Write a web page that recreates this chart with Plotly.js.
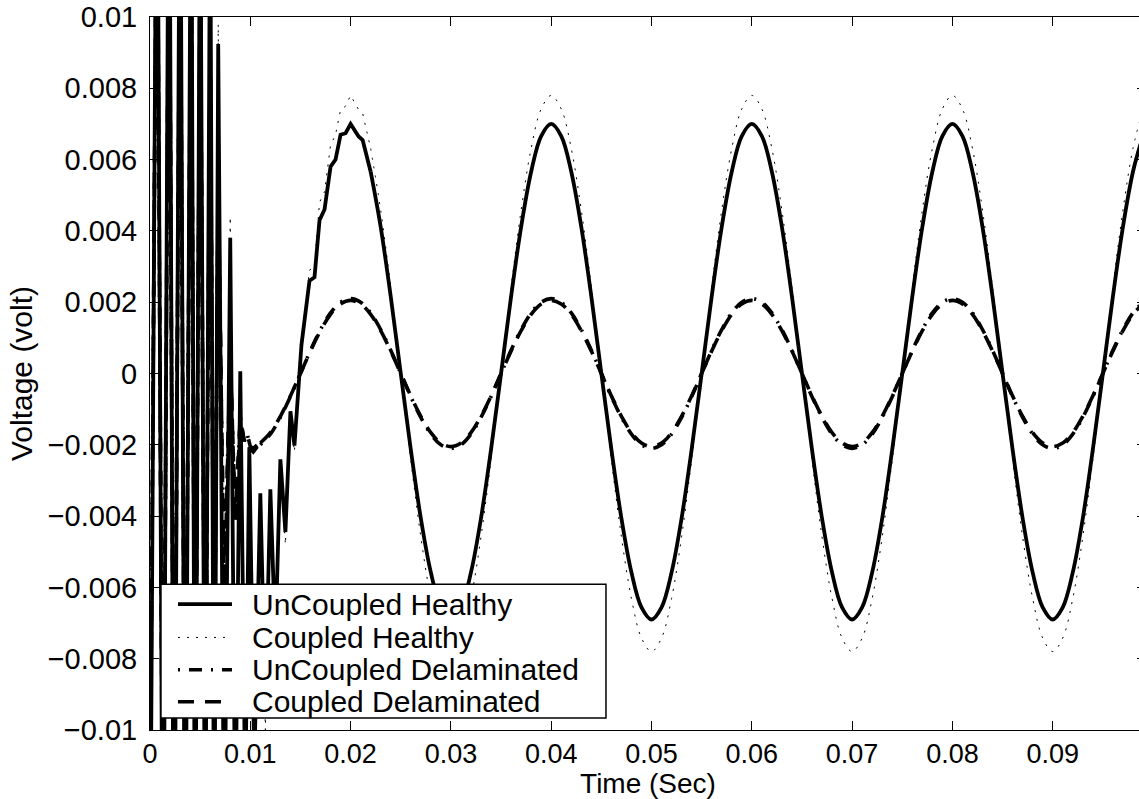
<!DOCTYPE html>
<html>
<head>
<meta charset="utf-8">
<script src="https://cdn.plot.ly/plotly-3.0.1.min.js"></script>
<style>
html, body { margin: 0; padding: 0; overflow: hidden; background: #fff; }
#chart { width: 1146px; height: 799px; }
</style>
</head>
<body>
<div id="chart"></div>
<script>
// ---------- Data ----------
// Start-up transient, healthy beam (linear segments)
const tHealthyTrans = [0, 0.0007, 0.0013, 0.0019, 0.0024, 0.0030, 0.0035, 0.0041, 0.0045, 0.0050,
  0.0055, 0.0060, 0.0064, 0.0068, 0.0074, 0.0080, 0.0085, 0.0090, 0.0095, 0.0099,
  0.0104, 0.0110, 0.0115, 0.0120, 0.0125, 0.0130, 0.0135, 0.0140, 0.0144, 0.0148,
  0.0151, 0.0159, 0.0164, 0.0169, 0.0174, 0.0180, 0.0185, 0.0190, 0.0195, 0.0200,
  0.0208, 0.0212, 0.0220];
const uncHealthyTrans = [-0.016, 0.018, -0.018, 0.018, -0.018, 0.017, -0.017, 0.016, -0.016, 0.015,
  -0.015, 0.014, -0.015, 0.00924, -0.014, 0.00381, -0.013, 0.00006, -0.012, -0.00207,
  -0.011, -0.00336, -0.0093, -0.00325, -0.0075, -0.00241, -0.00445, -0.00106, -0.00202, -0.0002,
  0.0008, 0.0026, 0.0027, 0.0043, 0.0046, 0.0058, 0.0060, 0.0067, 0.00674, 0.0070,
  0.00665, 0.00655, 0.00566];
const cplHealthyTrans = [-0.0176, 0.0198, -0.0198, 0.0198, -0.0198, 0.0187, -0.0187, 0.0176, -0.0176, 0.0165,
  -0.0165, 0.0154, -0.0165, 0.0098, -0.0154, 0.0044, -0.0143, 0.0001, -0.0132, -0.0022,
  -0.0121, -0.0036, -0.0100, -0.0035, -0.0082, -0.0026, -0.0048, -0.0012, -0.0022, -0.0002,
  0.0009, 0.0029, 0.0030, 0.0048, 0.0051, 0.0064, 0.0067, 0.0074, 0.0075, 0.0078,
  0.0074, 0.0073, 0.00631];

// Start-up transient, delaminated beam
const tDelamTrans = [0, 0.0007, 0.0013, 0.0019, 0.0024, 0.0030, 0.0035, 0.0041, 0.0045, 0.0050,
  0.0055, 0.0060, 0.0064, 0.0068, 0.0074, 0.0080, 0.0085, 0.0090, 0.0094, 0.0097,
  0.0100, 0.0103, 0.0107, 0.0110];
const uncDelamTrans = [-0.012, 0.015, -0.015, 0.014, -0.014, 0.013, -0.013, 0.012, -0.012, 0.011,
  -0.011, 0.009, -0.009, 0.005, -0.006, 0.0005, -0.004, -0.0012, -0.0019, -0.0017,
  -0.0021, -0.0022, -0.00205, -0.0020];
const cplDelamTrans = [-0.013, 0.016, -0.016, 0.015, -0.015, 0.014, -0.014, 0.013, -0.013, 0.012,
  -0.012, 0.0095, -0.0095, 0.0055, -0.0065, 0.0006, -0.0042, -0.0013, -0.0019, -0.0017,
  -0.00205, -0.0021, -0.0020, -0.00195];

// Steady state, healthy beam (0.022 .. 0.099 s)
const tHealthy = [0.022, 0.023, 0.024, 0.025, 0.026, 0.027, 0.028, 0.029, 0.030, 0.031,
  0.032, 0.033, 0.034, 0.035, 0.036, 0.037, 0.038, 0.039, 0.040, 0.041,
  0.042, 0.043, 0.044, 0.045, 0.046, 0.047, 0.048, 0.049, 0.050, 0.051,
  0.052, 0.053, 0.054, 0.055, 0.056, 0.057, 0.058, 0.059, 0.060, 0.061,
  0.062, 0.063, 0.064, 0.065, 0.066, 0.067, 0.068, 0.069, 0.070, 0.071,
  0.072, 0.073, 0.074, 0.075, 0.076, 0.077, 0.078, 0.079, 0.080, 0.081,
  0.082, 0.083, 0.084, 0.085, 0.086, 0.087, 0.088, 0.089, 0.090, 0.091,
  0.092, 0.093, 0.094, 0.095, 0.096, 0.097, 0.098, 0.099];
const uncHealthy = [0.00566, 0.00411, 0.00216, 0, -0.00213, -0.00406, -0.00558, -0.00656, -0.0069, -0.00656,
  -0.00558, -0.00406, -0.00213, 0, 0.00216, 0.00411, 0.00566, 0.00666, 0.0070, 0.00666,
  0.00566, 0.00411, 0.00216, 0, -0.00213, -0.00406, -0.00558, -0.00656, -0.0069, -0.00656,
  -0.00558, -0.00406, -0.00213, 0, 0.00216, 0.00411, 0.00566, 0.00666, 0.0070, 0.00666,
  0.00566, 0.00411, 0.00216, 0, -0.00213, -0.00406, -0.00558, -0.00656, -0.0069, -0.00656,
  -0.00558, -0.00406, -0.00213, 0, 0.00216, 0.00411, 0.00566, 0.00666, 0.0070, 0.00666,
  0.00566, 0.00411, 0.00216, 0, -0.00213, -0.00406, -0.00558, -0.00656, -0.0069, -0.00656,
  -0.00558, -0.00406, -0.00213, 0, 0.00216, 0.00411, 0.00566, 0.00666];
const cplHealthy = [0.00631, 0.00458, 0.00241, 0, -0.00241, -0.00458, -0.00631, -0.00742, -0.0078, -0.00742,
  -0.00631, -0.00458, -0.00241, 0, 0.00241, 0.00458, 0.00631, 0.00742, 0.0078, 0.00742,
  0.00631, 0.00458, 0.00241, 0, -0.00241, -0.00458, -0.00631, -0.00742, -0.0078, -0.00742,
  -0.00631, -0.00458, -0.00241, 0, 0.00241, 0.00458, 0.00631, 0.00742, 0.0078, 0.00742,
  0.00631, 0.00458, 0.00241, 0, -0.00241, -0.00458, -0.00631, -0.00742, -0.0078, -0.00742,
  -0.00631, -0.00458, -0.00241, 0, 0.00241, 0.00458, 0.00631, 0.00742, 0.0078, 0.00742,
  0.00631, 0.00458, 0.00241, 0, -0.00241, -0.00458, -0.00631, -0.00742, -0.0078, -0.00742,
  -0.00631, -0.00458, -0.00241, 0, 0.00241, 0.00458, 0.00631, 0.00742];

// Steady state, delaminated beam (0.011 .. 0.099 s)
const tDelam = [0.011, 0.012, 0.013, 0.014, 0.015, 0.016, 0.017, 0.018, 0.019,
  0.020, 0.021, 0.022, 0.023, 0.024, 0.025, 0.026, 0.027, 0.028, 0.029,
  0.030, 0.031, 0.032, 0.033, 0.034, 0.035, 0.036, 0.037, 0.038, 0.039,
  0.040, 0.041, 0.042, 0.043, 0.044, 0.045, 0.046, 0.047, 0.048, 0.049,
  0.050, 0.051, 0.052, 0.053, 0.054, 0.055, 0.056, 0.057, 0.058, 0.059,
  0.060, 0.061, 0.062, 0.063, 0.064, 0.065, 0.066, 0.067, 0.068, 0.069,
  0.070, 0.071, 0.072, 0.073, 0.074, 0.075, 0.076, 0.077, 0.078, 0.079,
  0.080, 0.081, 0.082, 0.083, 0.084, 0.085, 0.086, 0.087, 0.088, 0.089,
  0.090, 0.091, 0.092, 0.093, 0.094, 0.095, 0.096, 0.097, 0.098, 0.099];
const uncDelam = [-0.0020, -0.0017, -0.00123, -0.00065, 0, 0.00065, 0.00123, 0.0017, 0.0020,
  0.0021, 0.0020, 0.0017, 0.00123, 0.00065, 0, -0.00065, -0.00123, -0.0017, -0.0020,
  -0.0021, -0.0020, -0.0017, -0.00123, -0.00065, 0, 0.00065, 0.00123, 0.0017, 0.0020,
  0.0021, 0.0020, 0.0017, 0.00123, 0.00065, 0, -0.00065, -0.00123, -0.0017, -0.0020,
  -0.0021, -0.0020, -0.0017, -0.00123, -0.00065, 0, 0.00065, 0.00123, 0.0017, 0.0020,
  0.0021, 0.0020, 0.0017, 0.00123, 0.00065, 0, -0.00065, -0.00123, -0.0017, -0.0020,
  -0.0021, -0.0020, -0.0017, -0.00123, -0.00065, 0, 0.00065, 0.00123, 0.0017, 0.0020,
  0.0021, 0.0020, 0.0017, 0.00123, 0.00065, 0, -0.00065, -0.00123, -0.0017, -0.0020,
  -0.0021, -0.0020, -0.0017, -0.00123, -0.00065, 0, 0.00065, 0.00123, 0.0017, 0.0020];
const cplDelam = [-0.00195, -0.00166, -0.0012, -0.00063, 0, 0.00063, 0.0012, 0.00166, 0.00195,
  0.00205, 0.00195, 0.00166, 0.0012, 0.00063, 0, -0.00063, -0.0012, -0.00166, -0.00195,
  -0.00205, -0.00195, -0.00166, -0.0012, -0.00063, 0, 0.00063, 0.0012, 0.00166, 0.00195,
  0.00205, 0.00195, 0.00166, 0.0012, 0.00063, 0, -0.00063, -0.0012, -0.00166, -0.00195,
  -0.00205, -0.00195, -0.00166, -0.0012, -0.00063, 0, 0.00063, 0.0012, 0.00166, 0.00195,
  0.00205, 0.00195, 0.00166, 0.0012, 0.00063, 0, -0.00063, -0.0012, -0.00166, -0.00195,
  -0.00205, -0.00195, -0.00166, -0.0012, -0.00063, 0, 0.00063, 0.0012, 0.00166, 0.00195,
  0.00205, 0.00195, 0.00166, 0.0012, 0.00063, 0, -0.00063, -0.0012, -0.00166, -0.00195,
  -0.00205, -0.00195, -0.00166, -0.0012, -0.00063, 0, 0.00063, 0.0012, 0.00166, 0.00195];

const seriesNames = ['UnCoupled Healthy', 'Coupled Healthy', 'UnCoupled Delaminated', 'Coupled Delaminated'];

// ---------- Styles ----------
const FONT = '"Liberation Sans", Arial, Helvetica, sans-serif';
const styles = [
  {color: '#000', width: 3.8, dash: 'solid'},
  {color: '#000', width: 1, dash: '2px,7px'},
  {color: '#000', width: 3.6, dash: '2px,9px,13px,9px'},
  {color: '#000', width: 3.6, dash: '16px,11px'}
];

function pair(i, tT, yT, tS, yS) {
  return [
    {x: tT, y: yT, type: 'scatter', mode: 'lines', name: seriesNames[i],
     legendgroup: 'g' + i, showlegend: false, hoverinfo: 'skip',
     line: Object.assign({shape: 'linear'}, styles[i])},
    {x: tS, y: yS, type: 'scatter', mode: 'lines', name: seriesNames[i],
     legendgroup: 'g' + i, showlegend: false,
     line: Object.assign({shape: 'spline', smoothing: 1}, styles[i])}
  ];
}

const data = [].concat(
  pair(0, tHealthyTrans, uncHealthyTrans, tHealthy, uncHealthy),
  pair(1, tHealthyTrans, cplHealthyTrans, tHealthy, cplHealthy),
  pair(2, tDelamTrans, uncDelamTrans, tDelam, uncDelam),
  pair(3, tDelamTrans, cplDelamTrans, tDelam, cplDelam)
);

// ---------- Legend box (MATLAB style, drawn in paper coordinates) ----------
const legBox = {x0: 0.0110, x1: 0.4578, y0: 0.0168, y1: 0.2045};
const legRowY = [0.1765, 0.1298, 0.0845, 0.0396];
const legSampleX = [0.0281, 0.0823];
const legTextX = 0.1004;

const shapes = [{
  type: 'rect', xref: 'paper', yref: 'paper', layer: 'above',
  x0: legBox.x0, x1: legBox.x1, y0: legBox.y0, y1: legBox.y1,
  line: {color: '#000', width: 1.5}, fillcolor: '#fff'
}];
const annotations = [];
seriesNames.forEach(function (name, i) {
  shapes.push({
    type: 'line', xref: 'paper', yref: 'paper', layer: 'above',
    x0: legSampleX[0], x1: legSampleX[1], y0: legRowY[i], y1: legRowY[i],
    line: {color: styles[i].color, width: styles[i].width, dash: styles[i].dash}
  });
  annotations.push({
    xref: 'paper', yref: 'paper', x: legTextX, y: legRowY[i],
    xanchor: 'left', yanchor: 'middle', showarrow: false, text: name,
    font: {family: FONT, size: 30, color: '#000'}
  });
});

const axisCommon = {
  showgrid: false, zeroline: false,
  showline: true, linecolor: '#000', linewidth: 1, mirror: 'ticks',
  ticks: 'inside', ticklen: 9, tickwidth: 1, tickcolor: '#000'
};

const layout = {
  width: 1146, height: 799,
  margin: {l: 150, r: 0, t: 17, b: 69},
  paper_bgcolor: '#fff', plot_bgcolor: '#fff',
  font: {family: FONT, color: '#000'},
  showlegend: false,
  xaxis: Object.assign({}, axisCommon, {
    range: [0, 0.0993], tick0: 0, dtick: 0.01, ticklabelstandoff: 0,
    tickfont: {family: FONT, size: 27, color: '#000'},
    title: {text: 'Time (Sec)', font: {family: FONT, size: 28, color: '#000'}, standoff: 2}
  }),
  yaxis: Object.assign({}, axisCommon, {
    range: [-0.01, 0.01], tick0: 0, dtick: 0.002, ticklabelstandoff: 6,
    tickfont: {family: FONT, size: 29, color: '#000'},
    title: {text: 'Voltage (volt)', font: {family: FONT, size: 30, color: '#000'}, standoff: 6}
  }),
  shapes: shapes,
  annotations: annotations
};

Plotly.newPlot('chart', data, layout, {displayModeBar: false, staticPlot: true});
</script>
</body>
</html>
